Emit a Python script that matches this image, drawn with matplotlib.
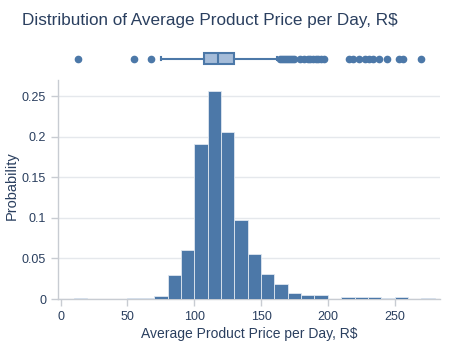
import matplotlib
matplotlib.use("Agg")
import matplotlib.pyplot as plt
import numpy as np

plt.rcParams["font.family"] = ["Liberation Sans", "DejaVu Sans"]

# Histogram data (bin left edges, width 10)
bin_lefts = [10, 20, 30, 40, 50, 60, 70, 80, 90, 100, 110, 120, 130, 140, 150,
             160, 170, 180, 190, 200, 210, 220, 230, 240, 250, 260, 270]
probs = [0.0014, 0, 0, 0, 0.0014, 0.0014, 0.0042, 0.029, 0.060, 0.1906, 0.2566, 0.2053,
         0.097, 0.0554, 0.0304, 0.0187, 0.0072, 0.0055, 0.0055, 0, 0.0024, 0.0024,
         0.0024, 0.0012, 0.0028, 0, 0.0012]
bin_width = 10

# Box plot summary
q1, med, q3 = 107.5, 117.5, 130.0
whislo, whishi = 75.0, 162.0
outliers = [13, 55, 68, 164, 165.5, 167, 168.5, 170, 171.5, 173, 175,
            179, 182, 185, 187, 189, 191, 193, 195, 197,
            216, 219, 223, 228, 231, 234, 238.5, 244.5, 253, 256.5, 270]

blue = "#4c78a8"
text_col = "#2a3f5f"
grid_col = "#e5e8ec"
axis_col = "#c8ccd2"

fig = plt.figure(figsize=(4.5, 3.5), dpi=100)
ax = fig.add_axes([58/450, 51/350, 382/450, 219/350])
axb = fig.add_axes([58/450, 275/350, 382/450, 33/350], sharex=ax)

ax.bar(bin_lefts, probs, width=bin_width, align="edge", color=blue,
       edgecolor="#dfe7f0", linewidth=0.6, zorder=3)
ax.set_xlim(-2, 284)
ax.set_ylim(0, 0.27)
ax.set_yticks([0, 0.05, 0.1, 0.15, 0.2, 0.25])
ax.set_yticklabels(["0", "0.05", "0.1", "0.15", "0.2", "0.25"])
ax.set_xticks([0, 50, 100, 150, 200, 250])
ax.grid(axis="y", color=grid_col, linewidth=1, zorder=0)
for s in ["top", "right"]:
    ax.spines[s].set_visible(False)
for s in ["left", "bottom"]:
    ax.spines[s].set_color(axis_col)
    ax.spines[s].set_linewidth(1)
ax.tick_params(axis="both", colors=axis_col, labelcolor=text_col, labelsize=9,
               length=5, width=1)
ax.set_xlabel("Average Product Price per Day, R$", color=text_col, fontsize=10)
ax.set_ylabel("Probability", color=text_col, fontsize=10.5)
ax.xaxis.set_label_coords(0.5, -0.16, transform=None) if False else ax.xaxis.set_label_coords((249 - 58) / 382, (299 - 334) / 219)
ax.yaxis.set_label_coords((12 - 58) / 382, (299 - 186) / 219)
ax.xaxis.label.set_va("center")
ax.yaxis.label.set_va("center")

stats = [dict(med=med, q1=q1, q3=q3, whislo=whislo, whishi=whishi, fliers=outliers)]
axb.bxp(stats, vert=False, positions=[0], widths=0.42, patch_artist=True,
        showcaps=True, capwidths=0.12,
        boxprops=dict(facecolor="#a5bcd9", edgecolor=blue, linewidth=1.5),
        medianprops=dict(color=blue, linewidth=1.5),
        whiskerprops=dict(color=blue, linewidth=1.5),
        capprops=dict(color=blue, linewidth=1.5),
        flierprops=dict(marker="o", markerfacecolor=blue, markeredgecolor=blue,
                        markersize=4.5, linestyle="none"))
axb.set_ylim(-0.6, 0.6)
axb.axis("off")

fig.text(22/450, 1 - 20/350, "Distribution of Average Product Price per Day, R$",
         color=text_col, fontsize=12.3, va="center", ha="left")

fig.savefig("out.png", dpi=100)
